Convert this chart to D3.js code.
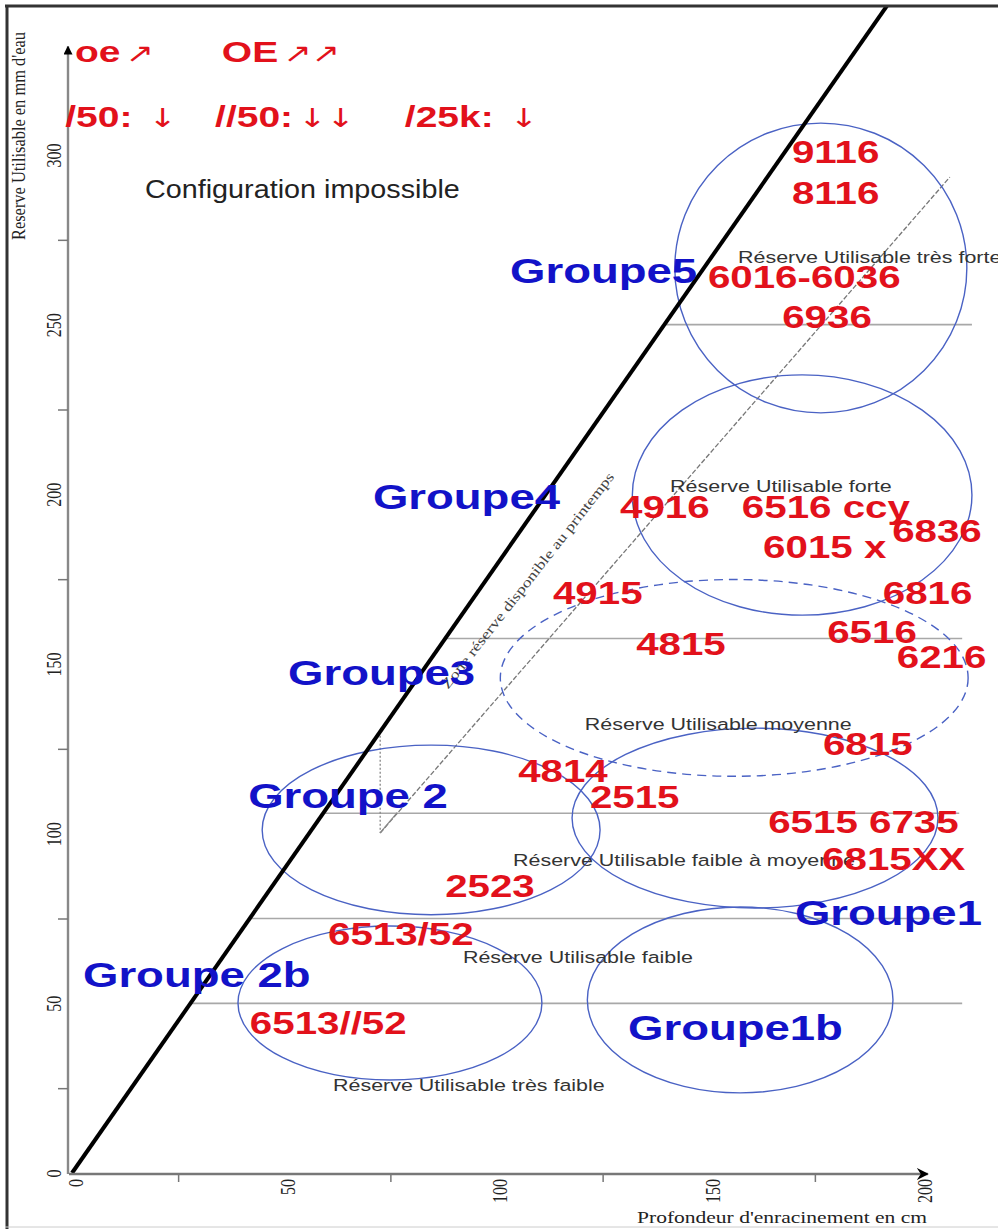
<!DOCTYPE html>
<html><head><meta charset="utf-8">
<script src="https://cdn.jsdelivr.net/npm/d3@7"></script>
<style>body{margin:0;background:#fff}svg{display:block}</style>
</head><body>
<svg id="c" width="998" height="1229"></svg>
<script>
// ---------- DATA ----------
const xTicks=[25,75,125,175];
const xLabels=[0,50,100,150,200];
const yTicks=[25,75,125,175,225,275];
const yLabels=[0,50,100,150,200,250,300];
const xTitle="Profondeur d'enracinement en cm";
const yTitle="Reserve Utilisable en mm d'eau";

// limit line (impossible configuration above)
const boundary=[[0,0],[192,344]];
// spring available reserve line
const springLine=[[72.6,100.2],[206.8,293.5]];
const springDrop=[[72.6,130],[72.6,100.2]];
const springText="Zone réserve disponible au printemps";
const springTextFrom=[88.6,142.4];
const springTextTo=[127.9,205.1];

// horizontal class limits (RU in mm) and their right ends (cm)
const levelValues=[250,157.5,106,75,50];
const levelEnds=[212,209.7,209,205.6,209.7];

// group ellipses
const ellCx=[176.4,172,156,160.9,84.6,74.9,157.4];
const ellCy=[266.7,199.8,145.9,104.6,101.1,50.1,51];
const ellRx=[34.4,40,55.1,43.1,39.8,35.8,36];
const ellRy=[42.7,35.4,29,26.5,25,22.7,27.4];
const ellDashed=[false,false,true,false,false,false,false];

const groupNames=['Groupe5','Groupe4','Groupe3','Groupe 2','Groupe1','Groupe 2b','Groupe1b'];
const groupX=[103.2,70.9,50.9,41.5,170.3,2.6,131];
const groupY=[262.3,195.7,143.8,107.6,73.1,54.8,39.2];

const codeLabels=['9116','8116','6016-6036','6936','4916','6516 ccy','6015 x','6836','4915','6816','6516','4815','6216','6815','4814','2515','6515 6735','6815XX','2523','6513/52','6513//52'];
const codeX=[169.6,169.6,149.8,167.3,129.1,157.8,162.8,193.2,113.3,191,177.9,132.9,194.3,176.9,105.1,122,164,176.7,87.9,60.3,41.9];
const codeY=[297.7,285.6,260.8,249,193,193,181.3,186,167.7,167.7,156.2,152.7,148.8,123.2,115.2,107.6,100.2,89.3,81.3,67.2,41];

const zoneLabels=['Réserve Utilisable très forte','Réserve Utilisable forte','Réserve Utilisable moyenne','Réserve Utilisable faible à moyenne','Réserve Utilisable faible','Réserve Utilisable très faible'];
const zoneX=[156.9,140.9,120.8,103.9,92.1,61.5];
const zoneY=[268.2,200.7,130.6,90.5,61.9,24.2];

const legendItems=['oe','OE','/50: ','//50:','/25k: '];
const legendArrows=['↗','↗↗','↓','↓↓','↓'];
const legendX=[0.7,35.3,-1.6,33.7,78.4];
const legendY=[327.4,327.4,308.3,308.3,308.3];

const impossibleText='Configuration impossible';
const impossibleX=17.2, impossibleY=287.4;

const axisXMax=201.6, axisYMax=332;

// ---------- DRAW ----------
const svg=d3.select('#c');
const x=d3.scaleLinear().domain([0,200]).range([72,921]);
const y=d3.scaleLinear().domain([0,300]).range([1173,155]);
const RED='#e2111b', BLUE='#1212c8', ELL='#4a62c4';
const SANS='Arial, "Liberation Sans", sans-serif';
const SERIF='"Times New Roman", "Liberation Serif", serif';

const defs=svg.append('defs');
defs.append('marker').attr('id','arrX').attr('viewBox','0 0 12 12').attr('refX',11).attr('refY',6)
  .attr('markerWidth',12).attr('markerHeight',12).attr('markerUnits','userSpaceOnUse').attr('orient','auto')
  .append('path').attr('d','M0,0 L12,6 L0,12 L4,6 Z').attr('fill','#000');
defs.append('marker').attr('id','arrY').attr('viewBox','0 0 10 10').attr('refX',9).attr('refY',5)
  .attr('markerWidth',9).attr('markerHeight',9).attr('markerUnits','userSpaceOnUse').attr('orient','auto')
  .append('path').attr('d','M0,0 L10,5 L0,10 Z').attr('fill','#000');

const line=d3.line().x(d=>x(d[0])).y(d=>y(d[1]));
const slope=boundary[1][1]/boundary[1][0];

// horizontal levels
svg.append('g').selectAll('line').data(levelValues).join('line')
  .attr('x1',v=>x(v/slope)).attr('x2',(v,i)=>x(levelEnds[i]))
  .attr('y1',v=>y(v)).attr('y2',v=>y(v))
  .attr('stroke','#a8a8a8').attr('stroke-width',1.6);

// spring line
svg.append('path').attr('d',line(springLine)).attr('fill','none')
  .attr('stroke','#777').attr('stroke-width',1.3).attr('stroke-dasharray','5,2');
svg.append('path').attr('d',line(springDrop)).attr('fill','none')
  .attr('stroke','#888').attr('stroke-width',1.3).attr('stroke-dasharray','2,2');
svg.append('path').attr('d',line([springDrop[1],[springDrop[1][0]+4,springDrop[1][1]+6]])).attr('fill','none')
  .attr('stroke','#888').attr('stroke-width',1.2);

// ellipses
svg.append('g').selectAll('ellipse').data(ellCx).join('ellipse')
  .attr('cx',d=>x(d)).attr('cy',(d,i)=>y(ellCy[i]))
  .attr('rx',(d,i)=>x(d+ellRx[i])-x(d)).attr('ry',(d,i)=>y(ellCy[i])-y(ellCy[i]+ellRy[i]))
  .attr('fill','none').attr('stroke',ELL).attr('stroke-width',1.4)
  .attr('stroke-dasharray',(d,i)=>ellDashed[i]?'9,6':null);

// boundary
const clip=defs.append('clipPath').attr('id','clipTop');
clip.append('rect').attr('x',0).attr('y',7).attr('width',998).attr('height',1222);
svg.append('path').attr('d',line(boundary)).attr('fill','none').attr('stroke','#000')
  .attr('stroke-width',4).attr('clip-path','url(#clipTop)');

// axes lines
svg.append('line').attr('x1',x(0)-3).attr('x2',x(axisXMax)).attr('y1',y(0)+1).attr('y2',y(0)+1)
  .attr('stroke','#777').attr('stroke-width',2.4).attr('marker-end','url(#arrX)');
svg.append('line').attr('x1',x(0)-4).attr('x2',x(0)-4).attr('y1',y(0)+1).attr('y2',y(axisYMax))
  .attr('stroke','#888').attr('stroke-width',2.4).attr('marker-end','url(#arrY)');

// ticks
const gxT=svg.append('g').attr('transform',`translate(0,${y(0)+1})`)
  .call(d3.axisBottom(x).tickValues(xTicks).tickSize(8).tickFormat(''));
gxT.select('.domain').remove(); gxT.selectAll('line').attr('stroke','#777').attr('stroke-width',1.5);
const gyT=svg.append('g').attr('transform',`translate(${x(0)-4},0)`)
  .call(d3.axisLeft(y).tickValues(yTicks).tickSize(10).tickFormat(''));
gyT.select('.domain').remove(); gyT.selectAll('line').attr('stroke','#777').attr('stroke-width',1.5);

// tick labels
const gxL=svg.append('g').attr('transform',`translate(3,${y(0)+1})`)
  .call(d3.axisBottom(x).tickValues(xLabels).tickSize(0).tickFormat(d3.format('d')));
gxL.select('.domain').remove();
gxL.selectAll('text').attr('transform','rotate(-90) scale(1,1.3)').attr('text-anchor','end')
  .attr('x',-5).attr('y',0).attr('dy','0.35em')
  .attr('font-family',SERIF).attr('font-size',16).attr('fill','#222');
const gyL=svg.append('g').attr('transform',`translate(${x(0)-18},0)`)
  .call(d3.axisLeft(y).tickValues(yLabels).tickSize(0).tickFormat(d3.format('d')));
gyL.select('.domain').remove();
gyL.selectAll('text').attr('transform','rotate(-90) scale(1,1.3)').attr('text-anchor','middle')
  .attr('x',0).attr('y',0).attr('dy','0.35em')
  .attr('font-family',SERIF).attr('font-size',16).attr('fill','#222');

// axis titles
svg.append('text').attr('x',637).attr('y',1223).attr('font-family',SERIF).attr('font-size',16)
  .attr('fill','#222').attr('textLength',290).attr('lengthAdjust','spacingAndGlyphs').text(xTitle);
svg.append('text').attr('transform','translate(25,240) rotate(-90) scale(1,1.3)')
  .attr('font-family',SERIF).attr('font-size',15).attr('fill','#222')
  .attr('textLength',208).attr('lengthAdjust','spacingAndGlyphs').text(yTitle);

// spring label
{
  const p0=[x(springTextFrom[0]),y(springTextFrom[1])], p1=[x(springTextTo[0]),y(springTextTo[1])];
  const ang=Math.atan2(p1[1]-p0[1],p1[0]-p0[0])*180/Math.PI;
  const len=Math.hypot(p1[0]-p0[0],p1[1]-p0[1]);
  svg.append('text').attr('transform',`translate(${p0[0]},${p0[1]}) rotate(${ang})`)
    .attr('font-family',SERIF).attr('font-size',14).attr('fill','#444')
    .attr('textLength',len).attr('lengthAdjust','spacingAndGlyphs').text(springText);
}

function stretchText(arr,xs,ys,opt){
  return svg.append('g').selectAll('text').data(arr).join('text')
    .attr('transform',(d,i)=>`translate(${x(xs[i])},${y(ys[i])}) scale(${opt.sx},1)`)
    .attr('font-family',SANS).attr('font-size',opt.size).attr('font-weight',opt.weight)
    .attr('fill',opt.fill).text(d=>d);
}
stretchText(zoneLabels,zoneX,zoneY,{sx:1.3,size:16.5,weight:'normal',fill:'#333'});
stretchText(groupNames,groupX,groupY,{sx:1.3,size:35,weight:'bold',fill:BLUE});
stretchText(codeLabels,codeX,codeY,{sx:1.3,size:31,weight:'bold',fill:RED});

// configuration impossible
svg.append('text').attr('transform',`translate(${x(impossibleX)},${y(impossibleY)}) scale(1.15,1)`)
  .attr('font-family',SANS).attr('font-size',25).attr('fill','#222').text(impossibleText);

// legend
const lg=svg.append('g').selectAll('text').data(legendItems).join('text')
  .attr('transform',(d,i)=>`translate(${x(legendX[i])},${y(legendY[i])}) scale(1.3,1)`)
  .attr('font-family',SANS).attr('font-size',30).attr('font-weight','bold').attr('fill',RED);
lg.append('tspan').text(d=>d);
lg.append('tspan').attr('font-family','"DejaVu Sans", sans-serif').attr('font-weight','normal')
  .attr('font-size',26).attr('dx',4).text((d,i)=>legendArrows[i]);

// frame
svg.append('line').attr('x1',7).attr('x2',7).attr('y1',5).attr('y2',1229).attr('stroke','#333').attr('stroke-width',3);
svg.append('line').attr('x1',5).attr('x2',998).attr('y1',6).attr('y2',6).attr('stroke','#333').attr('stroke-width',3);
svg.append('line').attr('x1',5).attr('x2',998).attr('y1',1227).attr('y2',1227).attr('stroke','#ccc').attr('stroke-width',1);
</script>
</body></html>
